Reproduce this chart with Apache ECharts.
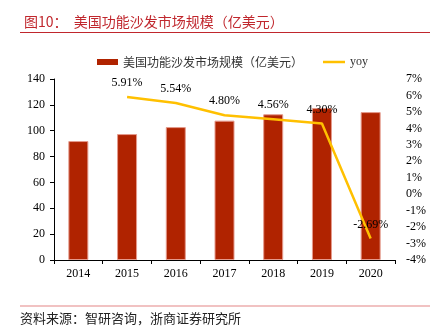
<!DOCTYPE html>
<html>
<head>
<meta charset="utf-8">
<script src="https://cdn.jsdelivr.net/npm/echarts@6/dist/echarts.min.js"></script>
<style>
  html, body { margin: 0; padding: 0; background: #fff; }
  #chart { width: 447px; height: 333px; }
</style>
</head>
<body>
<div id="chart"></div>
<script>
// US recliner / functional sofa market size and growth
var years = ['2014', '2015', '2016', '2017', '2018', '2019', '2020'];
var marketSize = [92.0, 97.4, 102.8, 107.8, 112.7, 117.5, 114.4]; // 亿美元
var yoy = [null, 5.91, 5.54, 4.80, 4.56, 4.30, -2.69];           // %
var leftTicks = { min: 0, max: 140, interval: 20 };
var rightTicks = { min: -4, max: 7, interval: 1 };

var serif = '"Liberation Serif", "Times New Roman", serif';
var cjk = '"Noto Sans CJK SC", sans-serif';
var red = '#C0272D';
var barName = '美国功能沙发市场规模（亿美元）';

var chart = echarts.init(document.getElementById('chart'), null, { renderer: 'canvas' });

chart.setOption({
  animation: false,
  backgroundColor: '#fff',
  title: {
    text: '图10：  美国功能沙发市场规模（亿美元）',
    left: 19,
    top: 10,
    textStyle: { color: red, fontSize: 14, fontWeight: 'normal', fontFamily: cjk }
  },
  graphic: [
    { type: 'line', shape: { x1: 20, y1: 32.5, x2: 430, y2: 32.5 }, style: { stroke: red, lineWidth: 1 } },
    { type: 'line', shape: { x1: 20, y1: 306, x2: 430, y2: 306 }, style: { stroke: '#E38585', lineWidth: 1 } },
    { type: 'text', left: 20, top: 312,
      style: { text: '资料来源：智研咨询，浙商证券研究所', fill: '#222', font: '13px ' + cjk } }
  ],
  legend: [
    {
      left: 92,
      top: 51,
      itemWidth: 21,
      itemHeight: 6,
      textStyle: { fontSize: 12, fontFamily: cjk, color: '#333' },
      data: [{ name: barName, icon: 'rect', itemStyle: { color: '#B02300', borderWidth: 0 } }]
    },
    {
      left: 318,
      top: 51,
      itemWidth: 22,
      itemHeight: 2.5,
      textStyle: { fontSize: 12, fontFamily: serif, color: '#333' },
      data: [{ name: 'yoy', icon: 'rect', itemStyle: { color: '#FFC000' } }]
    }
  ],
  grid: { left: 54, right: 52, top: 79, bottom: 73, containLabel: false },
  xAxis: {
    type: 'category',
    data: years,
    axisLine: { lineStyle: { color: '#000', width: 1 } },
    axisTick: { show: true, length: 4, lineStyle: { color: '#000' } },
    axisLabel: { color: '#000', fontSize: 12, fontFamily: serif, margin: 8 }
  },
  yAxis: [
    {
      type: 'value',
      min: leftTicks.min, max: leftTicks.max, interval: leftTicks.interval,
      axisLine: { show: true, lineStyle: { color: '#000', width: 1 } },
      axisTick: { show: true, length: 4, lineStyle: { color: '#000' } },
      axisLabel: { color: '#000', fontSize: 12, fontFamily: serif, margin: 9 },
      splitLine: { show: false }
    },
    {
      type: 'value',
      min: rightTicks.min, max: rightTicks.max, interval: rightTicks.interval,
      position: 'right',
      axisLine: { show: false },
      axisTick: { show: false },
      axisLabel: { color: '#000', fontSize: 12, fontFamily: serif, margin: 11, formatter: '{value}%' },
      splitLine: { show: false }
    }
  ],
  series: [
    {
      name: barName,
      type: 'bar',
      data: marketSize,
      yAxisIndex: 0,
      barWidth: 20,
      itemStyle: { color: '#B02300', borderColor: '#E59A8C', borderWidth: 1 }
    },
    {
      name: 'yoy',
      type: 'line',
      data: yoy,
      yAxisIndex: 1,
      symbol: 'circle',
      symbolSize: 0.1,
      showSymbol: true,
      connectNulls: false,
      lineStyle: { color: '#FFC000', width: 2.5 },
      itemStyle: { color: '#FFC000' },
      label: {
        show: true,
        position: 'top',
        distance: 8,
        color: '#000',
        fontSize: 12,
        fontFamily: serif,
        formatter: function (p) {
          var v = Array.isArray(p.value) ? p.value[1] : p.value;
          return (v == null || isNaN(v)) ? '' : Number(v).toFixed(2) + '%';
        }
      }
    }
  ]
});
</script>
</body>
</html>
